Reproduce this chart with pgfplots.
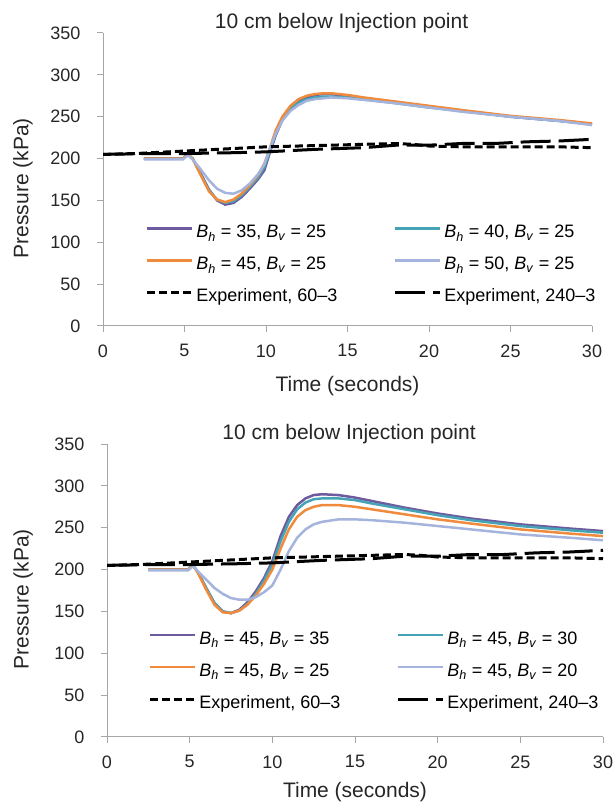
\documentclass[border=0pt]{standalone}
\usepackage{fontspec}
\setmainfont{Liberation Sans}
\usepackage{pgfplots}
\pgfplotsset{compat=1.18}

\definecolor{cPur}{HTML}{6E5A9E}
\definecolor{cTeal}{HTML}{45A3B5}
\definecolor{cOrg}{HTML}{F08A3C}
\definecolor{cLb}{HTML}{A4B4DC}
\definecolor{cAx}{HTML}{A6A6A6}

\newcommand\BB[2]{\textit{B}\textsubscript{\textit{h}} = #1, \textit{B}\textsubscript{\textit{v}} = #2}

\pgfplotsset{
  pchart/.style={
    scale only axis, height=293bp,
    xmin=0, xmax=30, ymin=0, ymax=350,
    xtick={0,5,...,30}, ytick={0,50,...,350},
    axis x line*=bottom, axis y line*=left,
    axis line style={draw=cAx, line width=1bp, -},
    tick align=outside, major tick length=6bp,
    tick style={draw=cAx, line width=1bp},
    tick label style={font=\fontsize{18bp}{20bp}\selectfont, text=black!85},
    /pgf/number format/assume math mode=true,
    xticklabel style={yshift=-9bp},
    yticklabel style={xshift=-13bp},
    label style={font=\fontsize{21bp}{24bp}\selectfont, text=black!85},
    title style={font=\fontsize{21bp}{24bp}\selectfont, text=black!85, at={(axis description cs:0.5,1)}, anchor=base, inner sep=0pt, yshift=-1bp, xshift=-6bp},
    title={10 cm below Injection point},
    xlabel={Time (seconds)}, ylabel={Pressure (kPa)},
    legend columns=2,
    legend cell align=left,
    legend style={draw=none, fill=none, font=\fontsize{18bp}{20bp}\selectfont, inner sep=0pt,
      nodes={inner sep=0pt, text height=13bp, text depth=4bp}, row sep=15bp,
      /tikz/every odd column/.style={column sep=3bp},
      /tikz/every even column/.style={column sep=56bp}, anchor=north west},
    legend image code/.code={\draw[#1] (0bp,5bp) -- (45bp,5bp);},
  },
  sim/.style={line width=2.5bp, no markers},
  ex1/.style={line width=3bp, black, dash pattern=on 8bp off 4bp, no markers},
  ex2/.style={line width=3bp, black, dash pattern=on 30bp off 8bp, no markers},
}

\begin{document}
\begin{tikzpicture}
\useasboundingbox (0,0) rectangle (613bp,806bp);

% upper chart: B_v fixed at 25
\begin{axis}[pchart, width=489bp, at={(103bp,480bp)}, anchor=south west,
  xlabel style={at={(axis description cs:0.5,0)}, anchor=center, yshift=-60bp},
  ylabel style={at={(axis description cs:-0.1636,0.47)}, anchor=center},
  legend style={at={(axis description cs:0.086,0.346)}}]
\addplot[sim, cPur] coordinates {(2.5,200) (4.9,200) (5.2,205) (5.5,200) (6,182) (6.5,163) (7,150) (7.5,145) (8,147) (8.5,154) (9,164) (9.5,175) (9.9,186) (10.2,205) (10.6,228) (11,246) (11.5,260) (12,268) (12.5,273) (13,276) (13.5,277) (14,277) (15,275) (16,272) (18,267) (20,262) (22,257) (25,250) (28,245) (30,241)};
\addlegendentry{\BB{35}{25}}
\addplot[sim, cTeal] coordinates {(2.5,200) (4.9,200) (5.2,205) (5.5,200) (6,181) (6.5,162) (7,151) (7.5,147) (8,149) (8.5,156) (9,166) (9.5,177) (9.9,190) (10.2,207) (10.6,230) (11,247) (11.5,259) (12,267) (12.5,271) (13,273) (13.5,274) (14,274) (15,273) (16,271) (18,266) (20,261) (22,257) (25,250) (28,245) (30,241)};
\addlegendentry{\BB{40}{25}}
\addplot[sim, cOrg] coordinates {(2.5,200) (4.9,200) (5.2,205) (5.5,200) (6,180) (6.5,161) (7,151) (7.5,148) (8,151) (8.5,158) (9,168) (9.5,180) (9.9,194) (10.2,210) (10.6,234) (11,250) (11.5,263) (12,271) (12.5,275) (13,277) (13.5,278) (14,278) (15,276) (16,273) (18,268) (20,263) (22,258) (25,251) (28,246) (30,242)};
\addlegendentry{\BB{45}{25}}
\addplot[sim, cLb] coordinates {(2.5,199) (4.9,199) (5.2,204) (5.5,199) (6,187) (6.5,174) (7,164) (7.5,159) (8,158) (8.5,162) (9,170) (9.5,181) (9.9,193) (10.2,210) (10.6,230) (11,245) (11.5,257) (12,264) (12.5,269) (13,271) (13.5,272) (14,273) (15,272) (16,270) (18,266) (20,261) (22,256) (25,250) (28,245) (30,240)};
\addlegendentry{\BB{50}{25}}
\addplot[ex1] coordinates {(0,205) (2,206) (4,208) (6,210) (8,212) (10,214) (12,215) (14,216) (16,217) (18,218) (19,217) (20,215) (22,214) (25,214) (28,214) (30,213)};
\addlegendentry{Experiment, 60–3}
\addplot[ex2] coordinates {(0,205) (3,206) (5,206) (8,207) (10,208) (13,211) (16,213) (18,216) (20,216) (22,218) (24,218) (26,220) (28,221) (30,223)};
\addlegendentry{Experiment, 240–3}
\end{axis}

% lower chart: B_h fixed at 45
\begin{axis}[pchart, width=496bp, at={(107bp,69bp)}, anchor=south west,
  xlabel style={at={(axis description cs:0.5,0)}, anchor=center, yshift=-55bp},
  ylabel style={at={(axis description cs:-0.169,0.47)}, anchor=center},
  legend style={at={(axis description cs:0.083,0.360)}}]
\addplot[sim, cPur] coordinates {(2.5,200) (4.9,200) (5.2,205) (5.5,197) (6,178) (6.5,160) (7,150) (7.5,148) (8,152) (8.5,161) (9,174) (9.5,190) (10,210) (10.5,240) (11,263) (11.5,277) (12,285) (12.5,289) (13,290) (14,289) (15,286) (16,282) (18,274) (20,267) (22,261) (25,254) (28,249) (30,246)};
\addlegendentry{\BB{45}{35}}
\addplot[sim, cTeal] coordinates {(2.5,200) (4.9,200) (5.2,205) (5.5,197) (6,178) (6.5,160) (7,150) (7.5,148) (8,151) (8.5,159) (9,171) (9.5,187) (10,206) (10.5,234) (11,257) (11.5,272) (12,280) (12.5,284) (13,285) (14,285) (15,283) (16,279) (18,272) (20,265) (22,259) (25,252) (28,247) (30,244)};
\addlegendentry{\BB{45}{30}}
\addplot[sim, cOrg] coordinates {(2.5,200) (4.9,200) (5.2,205) (5.5,196) (6,176) (6.5,158) (7,149) (7.5,148) (8,151) (8.5,158) (9,169) (9.5,183) (10,200) (10.5,225) (11,248) (11.5,263) (12,271) (12.5,275) (13,277) (14,277) (15,275) (16,272) (18,266) (20,260) (22,255) (25,248) (28,243) (30,240)};
\addlegendentry{\BB{45}{25}}
\addplot[sim, cLb] coordinates {(2.5,199) (4.9,199) (5.2,204) (5.5,198) (6,188) (6.5,178) (7,171) (7.5,166) (8,164) (8.5,164) (9,167) (9.5,173) (10,181) (10.5,200) (11,222) (11.5,238) (12,248) (12.5,254) (13,257) (14,260) (15,260) (16,259) (18,256) (20,252) (22,248) (25,242) (28,238) (30,235)};
\addlegendentry{\BB{45}{20}}
\addplot[ex1] coordinates {(0,205) (2,206) (4,208) (6,210) (8,212) (10,214) (12,215) (14,216) (16,217) (18,218) (19,217) (20,215) (22,214) (25,214) (28,214) (30,213)};
\addlegendentry{Experiment, 60–3}
\addplot[ex2] coordinates {(0,205) (3,206) (5,206) (8,207) (10,208) (13,211) (16,213) (18,216) (20,216) (22,218) (24,218) (26,220) (28,221) (30,223)};
\addlegendentry{Experiment, 240–3}
\end{axis}
\end{tikzpicture}
\end{document}
